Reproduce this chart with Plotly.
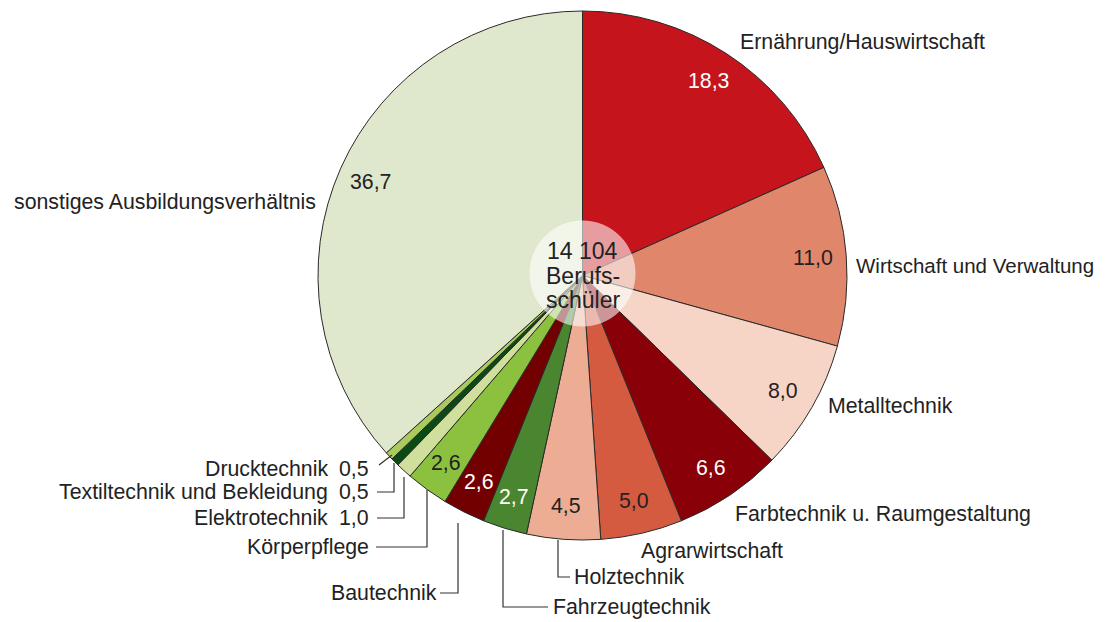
import math
import plotly.graph_objects as go

# ---------------- data ----------------
categories = [
    "Ernährung/Hauswirtschaft", "Wirtschaft und Verwaltung", "Metalltechnik",
    "Farbtechnik u. Raumgestaltung", "Agrarwirtschaft", "Holztechnik",
    "Fahrzeugtechnik", "Bautechnik", "Körperpflege", "Elektrotechnik",
    "Textiltechnik und Bekleidung", "Drucktechnik", "sonstiges Ausbildungsverhältnis",
]
shares = [18.3, 11.0, 8.0, 6.6, 5.0, 4.5, 2.7, 2.6, 2.6, 1.0, 0.5, 0.5, 36.7]
value_labels = ["18,3", "11,0", "8,0", "6,6", "5,0", "4,5", "2,7", "2,6", "2,6", "1,0", "0,5", "0,5", "36,7"]
total_students = "14 104"

# ---------------- styles ----------------
colors = ["#C5141B", "#E0866B", "#F6D5C7", "#8A0008", "#D45A40", "#EDAC94",
          "#4A8530", "#730000", "#8CC13F", "#D0E09C", "#0B4A14", "#A9CB5B", "#DFE8CC"]
text_colors = ["white", "#222", "#222", "white", "#222", "#222",
               "white", "white", "#222", None, None, None, "#222"]  # None -> value shown outside

OFF = 8  # page body margin
W, H = 1110 - OFF, 622 - OFF
CX, CY, R = 582.5, 275.5, 264.5
FONT = "Liberation Sans, Arial, Helvetica, sans-serif"
TXT = "#222222"
FS = 21.3


def px(x):
    return (x - OFF) / W


def py(y):
    return 1 - (y - OFF) / H


fig = go.Figure(go.Pie(
    labels=categories, values=shares, sort=False, direction="clockwise", rotation=0,
    marker=dict(colors=colors, line=dict(color="#2a2a2a", width=1)),
    textinfo="none", hoverinfo="label+value",
    domain=dict(x=[px(CX - R), px(CX + R)], y=[py(CY + R), py(CY - R)]),
    showlegend=False,
))

annotations = []
shapes = []


def note(text, x, y, xanchor="center", size=FS, color=TXT):
    annotations.append(dict(x=px(x), y=py(y), xref="paper", yref="paper", text=text,
                            showarrow=False, xanchor=xanchor, yanchor="middle",
                            borderpad=0, borderwidth=0,
                            font=dict(family=FONT, size=size, color=color)))


# values inside slices, positioned from the cumulative shares
tot = sum(shares)
cum = 0.0
for v, lab, tc in zip(shares, value_labels, text_colors):
    mid = (cum + v / 2) / tot * 2 * math.pi
    cum += v
    if tc is None:
        continue
    r = 0.875 * R
    note(lab, CX + r * math.sin(mid), CY - r * math.cos(mid), color=tc)

# outside category labels: (text, x, y, xanchor, size)
outside = [
    ("Ernährung/Hauswirtschaft", 740, 42, "left", FS),
    ("Wirtschaft und Verwaltung", 856, 265, "left", 20.5),
    ("Metalltechnik", 828, 406, "left", FS),
    ("Farbtechnik u. Raumgestaltung", 735, 514, "left", FS),
    ("Agrarwirtschaft", 641, 551, "left", FS),
    ("Holztechnik", 574, 577, "left", FS),
    ("Fahrzeugtechnik", 553, 607, "left", FS),
    ("Bautechnik", 437, 593, "right", FS),
    ("Körperpflege", 369, 547, "right", FS),
    ("Elektrotechnik", 328, 518, "right", FS),
    ("Textiltechnik und Bekleidung", 328, 492, "right", FS),
    ("Drucktechnik", 328, 469, "right", FS),
    ("sonstiges Ausbildungsverhältnis", 316, 202, "right", FS),
]
for t, x, y, xa, fs in outside:
    note(t, x, y, xanchor=xa, size=fs)

# small-share values written beside their labels
for i, y in zip([9, 10, 11], [518, 492, 469]):
    note(value_labels[i], 369, y, xanchor="right")

# leader lines (pixel polylines)
leaders = [
    [(379, 465), (392, 455)],                       # Drucktechnik
    [(377, 492), (394, 492), (394, 463)],           # Textiltechnik
    [(377, 518), (404, 518), (404, 477)],           # Elektrotechnik
    [(376, 547), (427, 547), (427, 490)],           # Körperpflege
    [(440, 593), (458, 593), (458, 523)],           # Bautechnik
    [(548, 607), (503, 607), (503, 530)],           # Fahrzeugtechnik
    [(558, 540), (558, 577), (570, 577)],           # Holztechnik
]
for pts in leaders:
    path = "M " + " L ".join(f"{px(a)},{py(b)}" for a, b in pts)
    shapes.append(dict(type="path", path=path, xref="paper", yref="paper",
                       line=dict(color="#333333", width=1.2)))

# translucent centre disc
cr = 53
shapes.append(dict(type="circle", xref="paper", yref="paper",
                   x0=px(CX - cr), x1=px(CX + cr), y0=py(CY - 2 + cr), y1=py(CY - 2 - cr),
                   fillcolor="rgba(255,255,255,0.58)", line=dict(width=0)))

for t, y in zip([total_students, "Berufs-", "schüler"], [251, 276, 300]):
    note(t, CX, y, size=23)

fig.update_layout(
    width=W, height=H, margin=dict(l=0, r=0, t=0, b=0),
    paper_bgcolor="white", plot_bgcolor="white",
    annotations=annotations, shapes=shapes,
)

fig.write_html("out.html")
